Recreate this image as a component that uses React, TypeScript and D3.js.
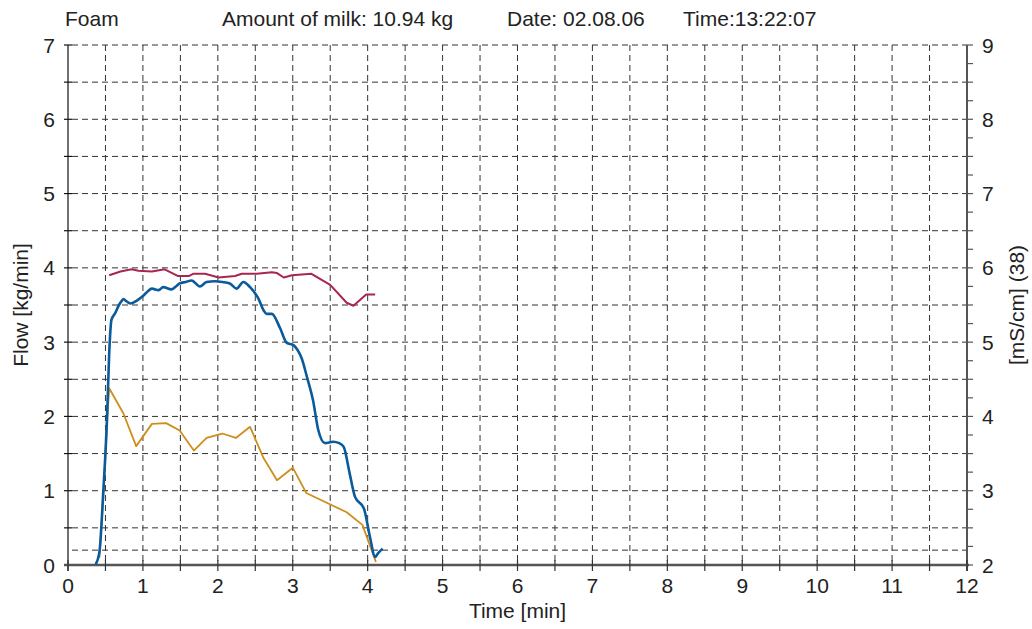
import React from "react";
import * as d3 from "d3";

const flowT = [0.37, 0.42, 0.47, 0.52, 0.55, 0.58, 0.63, 0.68, 0.72, 0.74, 0.78, 0.83, 0.92, 1.0, 1.06, 1.12, 1.21, 1.27, 1.38, 1.44, 1.49, 1.57, 1.65, 1.76, 1.85, 1.96, 2.06, 2.16, 2.25, 2.34, 2.43, 2.54, 2.61, 2.65, 2.72, 2.83, 2.92, 3.01, 3.06, 3.12, 3.19, 3.27, 3.34, 3.43, 3.54, 3.62, 3.68, 3.76, 3.83, 3.95, 4.03, 4.1, 4.14, 4.2];
const flowV = [0.01, 0.18, 0.97, 1.95, 2.85, 3.3, 3.39, 3.5, 3.56, 3.58, 3.55, 3.52, 3.56, 3.62, 3.68, 3.72, 3.7, 3.74, 3.71, 3.75, 3.79, 3.81, 3.83, 3.75, 3.81, 3.82, 3.81, 3.79, 3.72, 3.81, 3.74, 3.59, 3.43, 3.38, 3.38, 3.19, 2.99, 2.96, 2.9, 2.78, 2.53, 2.22, 1.82, 1.64, 1.66, 1.64, 1.59, 1.23, 0.92, 0.76, 0.38, 0.11, 0.16, 0.22];

const condT = [0.55, 0.7, 0.85, 0.94, 1.12, 1.29, 1.47, 1.61, 1.67, 1.83, 2.01, 2.23, 2.32, 2.52, 2.72, 2.79, 2.88, 2.99, 3.25, 3.5, 3.72, 3.81, 3.98, 4.1];
const condV = [5.9, 5.95, 5.98, 5.96, 5.95, 5.98, 5.89, 5.89, 5.92, 5.92, 5.87, 5.89, 5.92, 5.92, 5.94, 5.93, 5.87, 5.9, 5.92, 5.77, 5.53, 5.49, 5.64, 5.64];

const foamT = [0.42, 0.47, 0.52, 0.55, 0.74, 0.91, 1.12, 1.31, 1.49, 1.68, 1.85, 2.06, 2.24, 2.43, 2.61, 2.79, 3.0, 3.18, 3.72, 3.93, 4.11];
const foamV = [0.1, 0.9, 1.9, 2.38, 2.04, 1.6, 1.9, 1.91, 1.81, 1.54, 1.71, 1.77, 1.71, 1.86, 1.44, 1.14, 1.31, 0.97, 0.71, 0.54, 0.04];

const xTicks = [0, 1, 2, 3, 4, 5, 6, 7, 8, 9, 10, 11, 12];
const yTicks = [0, 1, 2, 3, 4, 5, 6, 7];
const y2Ticks = [2, 3, 4, 5, 6, 7, 8, 9];

const W = 1032, H = 629;
const L = 68, R = 967, T = 45, B = 565;
const font = "'Liberation Sans', Arial, sans-serif";
const FS = 21;

export default function App() {
  const x = d3.scaleLinear().domain([0, 12]).range([L, R]);
  const y = d3.scaleLinear().domain([0, 7]).range([B, T]);
  const y2 = d3.scaleLinear().domain([2, 9]).range([B, T]);

  const flowLine = d3.line<number>().x((_, i) => x(flowT[i])).y((d) => y(d)).curve(d3.curveMonotoneX);
  const condLine = d3.line<number>().x((_, i) => x(condT[i])).y((d) => y2(d));
  const foamLine = d3.line<number>().x((_, i) => x(foamT[i])).y((d) => y(d));

  const vGrid = d3.range(1, 24).map((k) => k * 0.5);
  const hGrid = [0.2, ...d3.range(1, 15).map((k) => k * 0.5)];
  const xHalf = d3.range(0, 25).map((k) => k * 0.5);
  const yHalf = d3.range(0, 15).map((k) => k * 0.5);
  const y2Quarter = d3.range(0, 29).map((k) => 2 + k * 0.25);

  return (
    <svg width={W} height={H} style={{ position: "absolute", left: 0, top: 0, background: "#fff" }} fontFamily={font}>
      <rect x={0} y={0} width={W} height={H} fill="#fff" />
      {/* header */}
      <g fontSize={FS} fill="#222">
        <text x={65} y={26}>Foam</text>
        <text x={222} y={26}>Amount of milk: 10.94 kg</text>
        <text x={507} y={26}>Date: 02.08.06</text>
        <text x={683} y={26}>Time:13:22:07</text>
      </g>
      {/* grid */}
      <g stroke="#333" strokeWidth={1} strokeDasharray="6,4">
        {vGrid.map((v) => (
          <line key={"v" + v} x1={x(v)} x2={x(v)} y1={T} y2={B} />
        ))}
        {hGrid.map((v) => (
          <line key={"h" + v} x1={L + 4} x2={R} y1={y(v)} y2={y(v)} />
        ))}
      </g>
      {/* left axis */}
      <line x1={L} x2={L} y1={T} y2={B + 6} stroke="#111" strokeWidth={1.2} />
      {yHalf.map((v) => (
        <line key={"yt" + v} x1={L - 4} x2={L + 4} y1={y(v)} y2={y(v)} stroke="#111" strokeWidth={1.2} />
      ))}
      <g fontSize={FS} fill="#222" textAnchor="end">
        {yTicks.map((v) => (
          <text key={"yl" + v} x={L - 13} y={y(v) + 7.5}>{v}</text>
        ))}
      </g>
      {/* right axis */}
      <line x1={R} x2={R} y1={T} y2={B + 6} stroke="#555" strokeWidth={2} />
      {y2Quarter.map((v) => (
        <line key={"y2t" + v} x1={R} x2={R + 6} y1={y2(v)} y2={y2(v)} stroke="#555" strokeWidth={1.2} />
      ))}
      <g fontSize={FS} fill="#222" textAnchor="start">
        {y2Ticks.map((v) => (
          <text key={"y2l" + v} x={R + 15} y={y2(v) + 7.5}>{v}</text>
        ))}
      </g>
      {/* bottom axis */}
      <line x1={L - 4} x2={R + 2} y1={B} y2={B} stroke="#555" strokeWidth={2.5} />
      {xHalf.map((v) => (
        <line key={"xt" + v} x1={x(v)} x2={x(v)} y1={B - 5} y2={B + 6} stroke="#333" strokeWidth={1.2} />
      ))}
      <g fontSize={FS} fill="#222" textAnchor="middle">
        {xTicks.map((v) => (
          <text key={"xl" + v} x={x(v)} y={593}>{v}</text>
        ))}
      </g>
      {/* titles */}
      <text x={(L + R) / 2} y={618} fontSize={FS} fill="#222" textAnchor="middle">Time [min]</text>
      <text transform={`translate(28,${(T + B) / 2}) rotate(-90)`} fontSize={FS} fill="#222" textAnchor="middle">Flow [kg/min]</text>
      <text transform={`translate(1024,${(T + B) / 2}) rotate(-90)`} fontSize={FS} fill="#222" textAnchor="middle">[mS/cm] (38)</text>
      {/* series */}
      <path d={foamLine(foamV) || ""} fill="none" stroke="#cf8e1c" strokeWidth={1.8} strokeLinejoin="round" />
      <path d={condLine(condV) || ""} fill="none" stroke="#a82650" strokeWidth={2} strokeLinejoin="round" />
      <path d={flowLine(flowV) || ""} fill="none" stroke="#0a5b9c" strokeWidth={2.6} strokeLinejoin="round" />
    </svg>
  );
}
